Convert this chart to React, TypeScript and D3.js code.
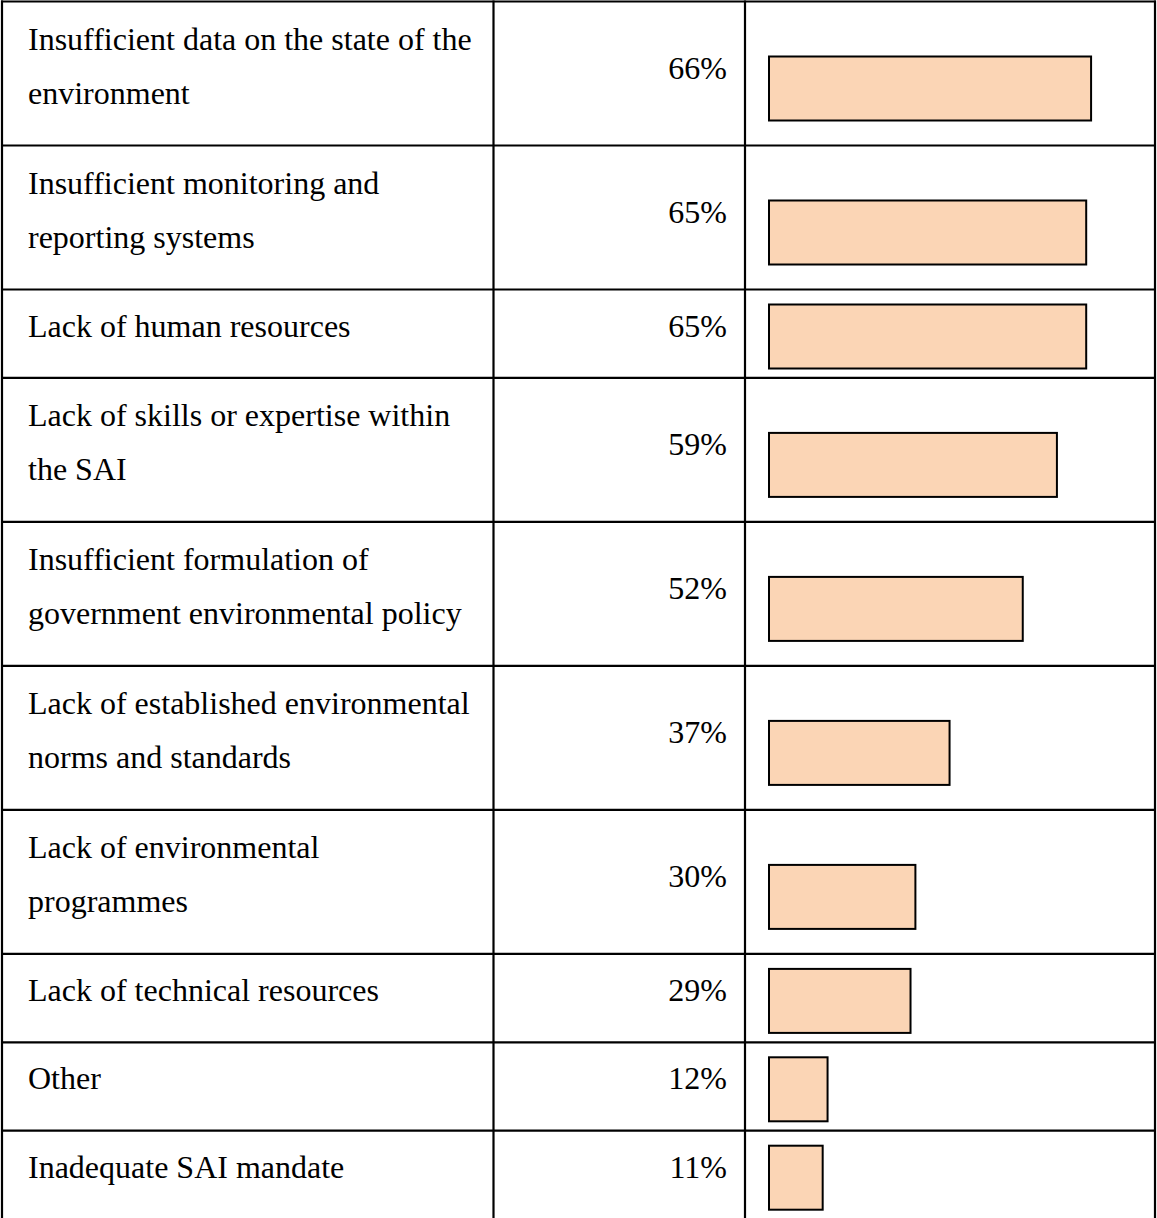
import React from "react";
import * as d3 from "d3";

const labels: string[][] = [
  ["Insufficient data on the state of the", "environment"],
  ["Insufficient monitoring and", "reporting systems"],
  ["Lack of human resources"],
  ["Lack of skills or expertise within", "the SAI"],
  ["Insufficient formulation of", "government environmental policy"],
  ["Lack of established environmental", "norms and standards"],
  ["Lack of environmental", "programmes"],
  ["Lack of technical resources"],
  ["Other"],
  ["Inadequate SAI mandate"],
];
const values: number[] = [66, 65, 65, 59, 52, 37, 30, 29, 12, 11];

const W = 1157;
const H = 1218;
const FONT = "'Liberation Serif', 'Times New Roman', serif";
const FS = 32;

export default function App() {
  const rowH = labels.map((l) => (l.length > 1 ? 144 : 88.4));
  const tops = [1.5, ...Array.from(d3.cumsum(rowH)).map((c) => 1.5 + c)];
  const colX = [2, 493.5, 745, 1155];
  const barX0 = 769;
  const x = d3.scaleLinear().domain([0, 100]).range([barX0, barX0 + 488]);
  const barH = 64;

  return (
    <svg
      width={W}
      height={H}
      style={{ position: "absolute", left: 0, top: 0, background: "#fff" }}
      fontFamily={FONT}
      fontSize={FS}
    >
      <rect x={0} y={0} width={W} height={H} fill="#fff" />
      {labels.map((lines, i) => {
        const top = tops[i];
        const h = rowH[i];
        const c = top + h / 2;
        const two = lines.length > 1;
        const barY = two ? top + 55 : top + 15;
        return (
          <g key={i}>
            {lines.map((t, j) => (
              <text
                key={j}
                x={28}
                y={two ? (j === 0 ? c - 24 : c + 30) : top + 47}
                fill="#000"
              >
                {t}
              </text>
            ))}
            <text x={727} y={two ? c + 5 : top + 47} textAnchor="end" fill="#000">
              {values[i]}%
            </text>
            <rect
              x={x(0)}
              y={barY}
              width={x(values[i]) - x(0)}
              height={barH}
              fill="#FBD5B5"
              stroke="#000"
              strokeWidth={2}
            />
          </g>
        );
      })}
      {tops.map((t, i) => (
        <line key={"h" + i} x1={colX[0] - 1} x2={colX[3] + 1} y1={t} y2={t} stroke="#000" strokeWidth={2.2} />
      ))}
      {colX.map((cx, i) => (
        <line key={"v" + i} x1={cx} x2={cx} y1={0.5} y2={H + 10} stroke="#000" strokeWidth={2.2} />
      ))}
    </svg>
  );
}
